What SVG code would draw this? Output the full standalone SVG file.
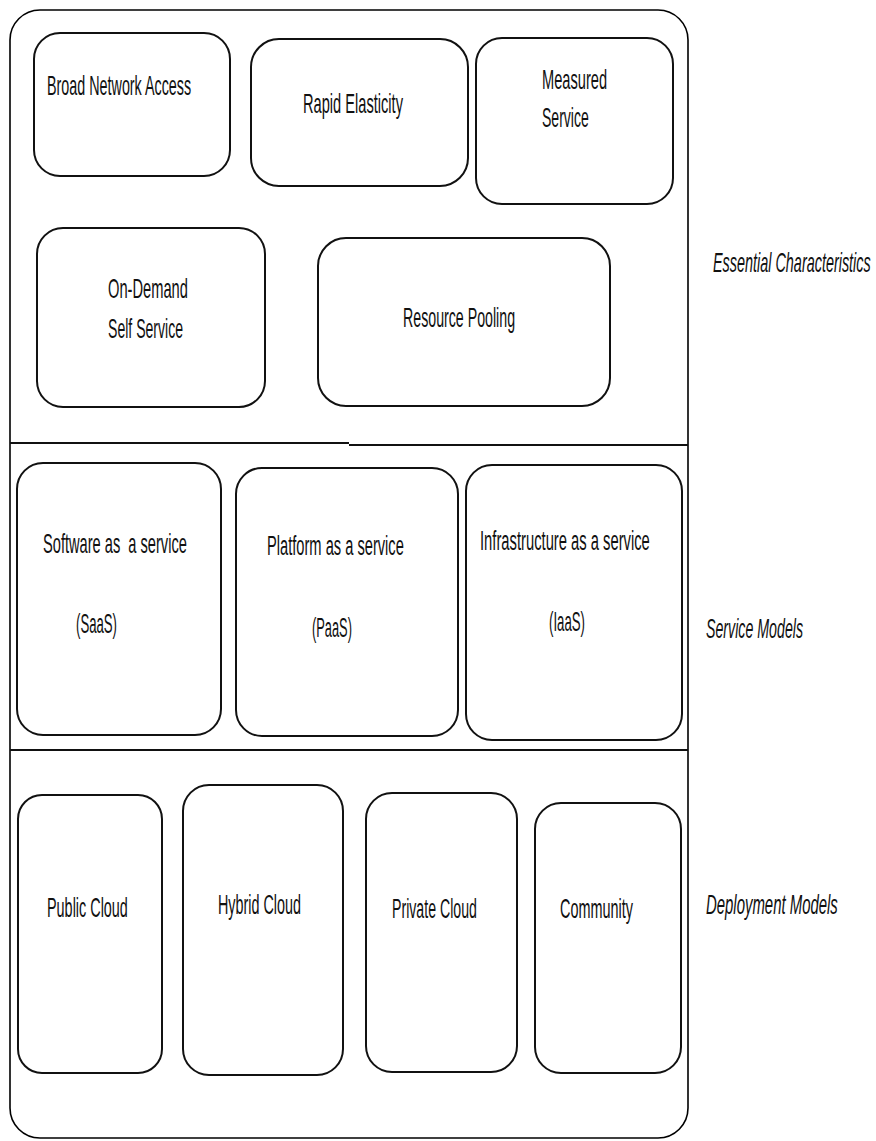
<svg xmlns="http://www.w3.org/2000/svg" width="876" height="1141" viewBox="0 0 876 1141">
<style>
.frame{fill:none;stroke:#000;stroke-width:1.6}
.box{fill:#fff;stroke:#111;stroke-width:2}
.div{stroke:#111;stroke-width:2.2}
.t{font-family:"Liberation Sans",Arial,sans-serif;font-size:27px;fill:#111}
.lbl{font-family:"Liberation Sans",Arial,sans-serif;font-size:27px;font-style:italic;fill:#111}
</style>
<rect width="876" height="1141" fill="#fff"/>
<g id="frame">
<rect class="frame" x="10" y="10" width="678" height="1128" rx="30" ry="30"/>
</g>
<g id="dividers">
<line class="div" x1="10" y1="443" x2="349" y2="443"/>
<line class="div" x1="349" y1="445" x2="688" y2="445"/>
<line class="div" x1="10" y1="750" x2="688" y2="750"/>
</g>
<g id="broad-network-access">
<rect class="box" x="34" y="33" width="196" height="143" rx="26"/>
<text class="t" transform="translate(47 95) scale(0.531 1)">Broad Network Access</text>
</g>
<g id="rapid-elasticity">
<rect class="box" x="251" y="39" width="217" height="147" rx="28"/>
<text class="t" transform="translate(303 113) scale(0.542 1)">Rapid Elasticity</text>
</g>
<g id="measured-service">
<rect class="box" x="476" y="38" width="197" height="166" rx="26"/>
<text class="t" transform="translate(542 89) scale(0.542 1)">Measured</text>
<text class="t" transform="translate(542 127) scale(0.52 1)">Service</text>
</g>
<g id="on-demand-self-service">
<rect class="box" x="37" y="228" width="228" height="179" rx="26"/>
<text class="t" transform="translate(108 298) scale(0.544 1)">On-Demand</text>
<text class="t" transform="translate(108 338) scale(0.521 1)">Self Service</text>
</g>
<g id="resource-pooling">
<rect class="box" x="318" y="238" width="292" height="168" rx="28"/>
<text class="t" transform="translate(403 327) scale(0.526 1)">Resource Pooling</text>
</g>
<g id="saas">
<rect class="box" x="17" y="463" width="204" height="272" rx="26"/>
<text class="t" xml:space="preserve" transform="translate(43 553) scale(0.542 1)">Software as  a service</text>
<text class="t" transform="translate(76 633) scale(0.488 1)">(SaaS)</text>
</g>
<g id="paas">
<rect class="box" x="236" y="468" width="222" height="268" rx="26"/>
<text class="t" transform="translate(267 555) scale(0.543 1)">Platform as a service</text>
<text class="t" transform="translate(312 637) scale(0.476 1)">(PaaS)</text>
</g>
<g id="iaas">
<rect class="box" x="466" y="465" width="216" height="275" rx="26"/>
<text class="t" transform="translate(480 550) scale(0.547 1)">Infrastructure as a service</text>
<text class="t" transform="translate(549 631) scale(0.49 1)">(IaaS)</text>
</g>
<g id="public-cloud">
<rect class="box" x="18" y="795" width="144" height="278" rx="24"/>
<text class="t" transform="translate(47 917) scale(0.534 1)">Public Cloud</text>
</g>
<g id="hybrid-cloud">
<rect class="box" x="183" y="785" width="160" height="290" rx="26"/>
<text class="t" transform="translate(218 914) scale(0.532 1)">Hybrid Cloud</text>
</g>
<g id="private-cloud">
<rect class="box" x="366" y="793" width="151" height="279" rx="26"/>
<text class="t" transform="translate(392 918) scale(0.524 1)">Private Cloud</text>
</g>
<g id="community">
<rect class="box" x="535" y="803" width="146" height="270" rx="26"/>
<text class="t" transform="translate(560 918) scale(0.535 1)">Community</text>
</g>
<g id="labels">
<text class="lbl" transform="translate(713 272) scale(0.534 1)">Essential Characteristics</text>
<text class="lbl" transform="translate(706 638) scale(0.526 1)">Service Models</text>
<text class="lbl" transform="translate(706 914) scale(0.553 1)">Deployment Models</text>
</g>
</svg>
